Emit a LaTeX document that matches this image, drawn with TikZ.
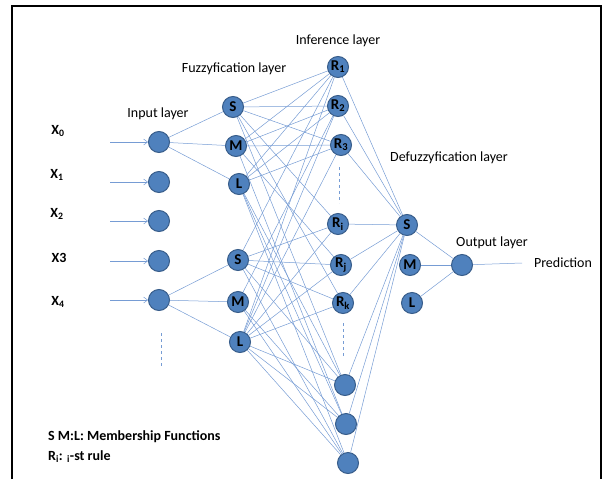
\documentclass[tikz,border=0pt]{standalone}
\usepackage{fontspec}
\setmainfont{Carlito}
\usetikzlibrary{positioning, arrows.meta}
\definecolor{nodeBlue}{RGB}{79,129,189}
\definecolor{nodeEdge}{RGB}{56,93,138}
\definecolor{linkBlue}{RGB}{118,156,212}

\begin{document}
\begin{tikzpicture}[x=1pt, y=-1pt,
    neuron/.style={circle, draw=nodeEdge, fill=nodeBlue, line width=1pt, minimum size=21pt, inner sep=0pt, font=\bfseries\fontsize{15}{16}\selectfont},
    link/.style={linkBlue, line width=0.5pt},
    layer/.style={font=\fontsize{14}{16}\selectfont, inner sep=0pt},
    xlabel/.style={font=\bfseries\fontsize{14}{16}\selectfont, inner sep=0pt},
    dots/.style={linkBlue, dashed, line width=0.6pt}]
  \useasboundingbox (0,0) rectangle (607,479);
  \draw[line width=2pt] (12,479) -- (12,6) -- (601,6) -- (601,479);

  % input layer
  \foreach \i/\y in {0/142,1/182,2/221,3/261,4/300} {
    \node[neuron] (in\i) at (159,\y) {};
    \coordinate (src\i) at (110,\y);
    \draw[link, -{Straight Barb[length=4pt, width=6pt]}] (src\i) -- (in\i);
  }
  \node[xlabel] (x0) at (58,131) {X\textsubscript{0}};
  \node[xlabel] (x1) at (57,175) {X\textsubscript{1}};
  \node[xlabel] (x2) at (57,214) {X\textsubscript{2}};
  \node[xlabel] (x3) at (59,258) {X3};
  \node[xlabel] (x4) at (58,302) {X\textsubscript{4}};
  \coordinate (inDotA) at (161,333);
  \coordinate (inDotB) at (161,367);
  \draw[dots] (inDotA) -- (inDotB);

  % fuzzyfication layer
  \node[neuron] (fS1) at (233,107) {S};
  \node[neuron] (fM1) at (236,146) {M};
  \node[neuron] (fL1) at (239,184) {L};
  \node[neuron] (fS2) at (238,260) {S};
  \node[neuron] (fM2) at (238,302) {M};
  \node[neuron] (fL2) at (240,342) {L};

  % inference layer
  \node[neuron] (r1) at (338,67) {R\textsubscript{1}};
  \node[neuron] (r2) at (338,106) {R\textsubscript{2}};
  \node[neuron] (r3) at (341,145) {R\textsubscript{3}};
  \node[neuron] (ri) at (338,224) {R\textsubscript{i}};
  \node[neuron] (rj) at (341,265) {R\textsubscript{j}};
  \node[neuron] (rk) at (343,303) {R\textsubscript{k}};
  \node[neuron] (rb1) at (345,385) {};
  \node[neuron] (rb2) at (346,424) {};
  \node[neuron] (rb3) at (348,463) {};
  \coordinate (rDotA) at (339,167);
  \coordinate (rDotB) at (339,203);
  \coordinate (rDotC) at (343,323);
  \coordinate (rDotD) at (343,357);
  \draw[dots] (rDotA) -- (rDotB);
  \draw[dots] (rDotC) -- (rDotD);

  % defuzzyfication and output
  \node[neuron] (dS) at (407,225) {S};
  \node[neuron] (dM) at (410,265) {M};
  \node[neuron] (dL) at (412,303) {L};
  \node[neuron] (out) at (462,265) {};
  \coordinate (predEnd) at (522,263);
  \node[layer] (pred) at (563,263) {Prediction};

  % layer titles
  \node[layer] (tIn) at (158,114) {Input layer};
  \node[layer] (tFuzz) at (234,69) {Fuzzyfication layer};
  \node[layer] (tInf) at (338,41) {Inference layer};
  \node[layer] (tDef) at (449,158) {Defuzzyfication layer};
  \node[layer] (tOut) at (492,243) {Output layer};

  % links
  \foreach \f in {fS1,fM1,fL1} \draw[link] (in0) -- (\f);
  \foreach \f in {fS2,fM2,fL2} \draw[link] (in4) -- (\f);
  \foreach \r in {r1,r2,r3,ri,rk,rb1} \draw[link] (fS1) -- (\r);
  \foreach \r in {r1,r2,r3,rj,rb2} \draw[link] (fM1) -- (\r);
  \foreach \r in {r1,r2,r3,rb1,rb2,rb3} \draw[link] (fL1) -- (\r);
  \foreach \r in {r1,ri,rj,rk,rb1,rb3} \draw[link] (fS2) -- (\r);
  \foreach \r in {r2,rb2,rb3} \draw[link] (fM2) -- (\r);
  \foreach \r in {r1,r2,r3,ri,rj,rk,rb1,rb2,rb3} \draw[link] (fL2) -- (\r);
  \foreach \r in {r1,r2,r3,ri,rj,rk,rb1,rb2,rb3} \draw[link] (\r) -- (dS);
  \foreach \d in {dS,dM,dL} \draw[link] (\d) -- (out);
  \draw[link] (out) -- (predEnd);

  % legend
  \node[xlabel, anchor=west] (leg1) at (48,437) {S M:L: Membership Functions};
  \node[xlabel, anchor=west] (leg2) at (48,457) {R\textsubscript{i}: \textsubscript{i}-st rule};
\end{tikzpicture}
\end{document}
